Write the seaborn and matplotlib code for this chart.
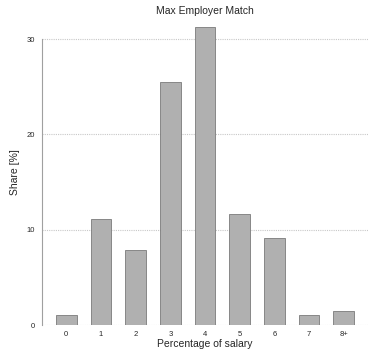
import pandas as pd
import seaborn as sns
import matplotlib.pyplot as plt

# Max employer match, share of plans by match percentage
categories = ["0", "1", "2", "3", "4", "5", "6", "7", "8+"]
shares = [1.0, 11.1, 7.9, 25.5, 31.3, 11.7, 9.1, 1.0, 1.5]

df = pd.DataFrame({"match": categories, "share": shares})

sns.set_theme(style="white")
plt.rcParams["font.family"] = ["Liberation Sans", "DejaVu Sans"]

fig = plt.figure(figsize=(3.68, 3.51), dpi=100)
ax = fig.add_axes([0.114, 0.074, 0.886, 0.869])

sns.barplot(data=df, x="match", y="share", color="#b0b0b0", edgecolor="#7a7a7a",
            linewidth=0.6, width=0.6, saturation=1, ax=ax, zorder=3)

ax.set_xlim(-0.7, 8.7)
ax.set_ylim(0, 32)
ax.set_yticks([0, 10, 20, 30])
ax.yaxis.grid(True, linestyle=(0, (1, 1)), color="#c8c8c8", linewidth=0.8, zorder=0)
ax.xaxis.grid(False)

for side in ["top", "right", "bottom"]:
    ax.spines[side].set_visible(False)
ax.spines["left"].set_bounds(0, 30)
ax.spines["left"].set_color("#a0a0a0")
ax.spines["left"].set_linewidth(0.8)

ax.tick_params(axis="y", length=3, width=0.6, color="#a0a0a0", labelsize=5.5, pad=2)
ax.tick_params(axis="x", length=0, labelsize=5.5, pad=4)

ax.set_title("Max Employer Match", fontsize=7.5, pad=4)
ax.set_xlabel("Percentage of salary", fontsize=7.5, labelpad=1)
ax.set_ylabel("Share [%]", fontsize=7.5, labelpad=5)

fig.savefig("out.png", dpi=100)
